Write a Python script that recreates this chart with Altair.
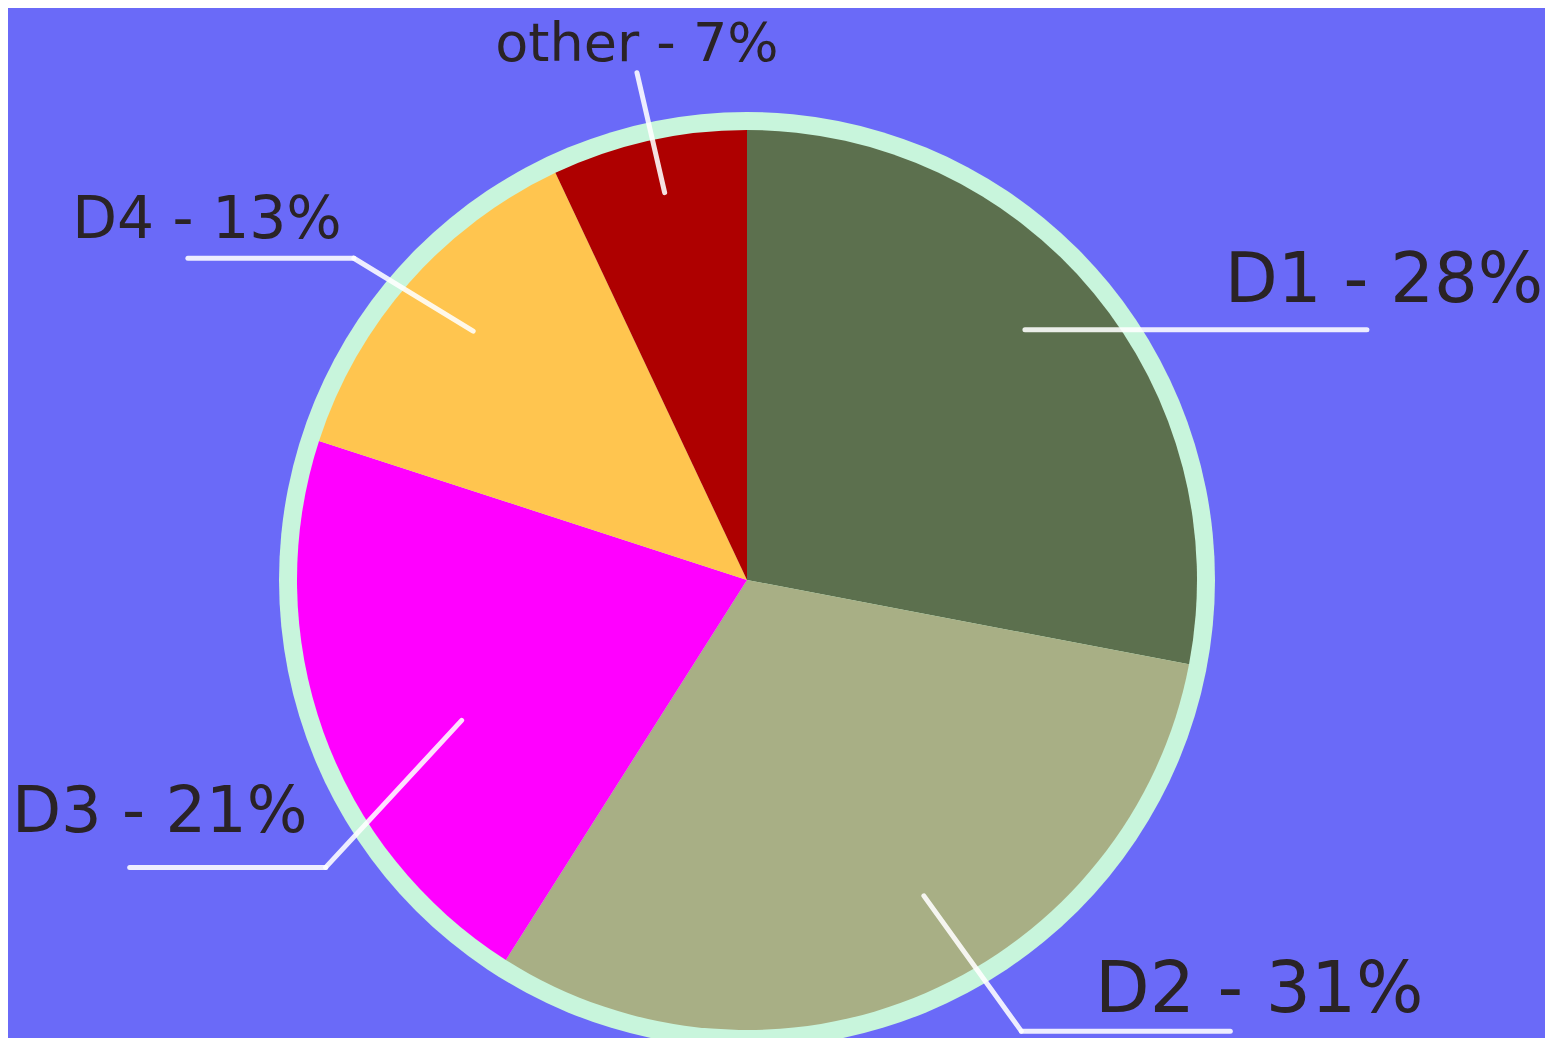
import numpy as np
import pandas as pd
import altair as alt

# ---- data ----
categories = ["D1", "D2", "D3", "D4", "other"]
values = [28, 31, 21, 13, 7]
label_texts = ["D1 - 28%", "D2 - 31%", "D3 - 21%", "D4 - 13%", "other - 7%"]

# ---- style ----
slice_colors = ["#5C704E", "#A8AF85", "#FF00FF", "#FFC54F", "#AE0000"]
BG = "#6A6AF8"
RING = "#C8F5DC"
TEXT = "#2A2326"
W, H = 1537, 1030
CX, CY = 739, 572
R = 450
RING_R = 468

# leader style per slice: (inner angle offset, inner radius, elbow angle offset,
#                          elbow radius, horizontal length, label dx, label dy)
LEADER = {
    "D1": (-2.4, 374, -2.4, 374, 342, 17, -28),
    "D2": (-5.85, 362, -7.9, 528, 209, 29, -19),
    "D3": (-6.4, 318, -14.5, 510, 196, 30, -35),
    "D4": (0.86, 370, -2.1, 508, 166, 19, -20),
    "other": (0.6, 396, 0.36, 519, 0, 0, -12),
}

vals = np.array(values, dtype=float)
total = vals.sum()
start = np.cumsum(vals) - vals
mid = (start + vals / 2) / total * 360.0


def polar(a_deg, r):
    a = np.deg2rad(a_deg)
    return CX + r * np.sin(a), CY - r * np.cos(a)


pie_df = pd.DataFrame({"cat": categories, "value": values, "order": range(len(categories))})

seg_rows = []
lab_rows = []
for cat, m, txt, v in zip(categories, mid, label_texts, values):
    o1, r1, o2, r2, h, ldx, ldy = LEADER[cat]
    x1, y1 = polar(m + o1, r1)
    x2, y2 = polar(m + o2, r2)
    side = 1 if x2 > CX else -1
    x3, y3 = x2 + side * h, y2
    if np.hypot(x2 - x1, y2 - y1) > 1:
        seg_rows.append({"x": x1, "y": y1, "x2": x2, "y2": y2})
    if h > 0:
        seg_rows.append({"x": x2, "y": y2, "x2": x3, "y2": y3})
    lab_rows.append({"x": x3 + ldx, "y": y3 + ldy, "text": txt, "value": v})

seg_df = pd.DataFrame(seg_rows)
lab_df = pd.DataFrame(lab_rows)

ring = alt.Chart(pd.DataFrame({"v": [1]})).mark_arc(
    radius=RING_R, color=RING
).encode(
    theta=alt.value(0), theta2=alt.value(2 * np.pi),
    x=alt.value(CX), y=alt.value(CY),
)

pie = alt.Chart(pie_df).mark_arc(radius=R, strokeWidth=0).encode(
    theta=alt.Theta("value:Q", stack=True),
    order=alt.Order("order:Q"),
    color=alt.Color("cat:N", scale=alt.Scale(domain=categories, range=slice_colors), legend=None),
    x=alt.value(CX), y=alt.value(CY),
)

lines = alt.Chart(seg_df).mark_rule(
    color="#FFFFFF", opacity=0.88, strokeWidth=5, strokeCap="round"
).encode(
    x=alt.X("x:Q", scale=None, axis=None),
    y=alt.Y("y:Q", scale=None, axis=None),
    x2="x2:Q", y2="y2:Q",
)

labels = alt.Chart(lab_df).mark_text(
    font="DejaVu Sans", align="center", baseline="alphabetic", color=TEXT
).encode(
    x=alt.X("x:Q", scale=None, axis=None),
    y=alt.Y("y:Q", scale=None, axis=None),
    text="text:N",
    size=alt.Size("value:Q", scale=alt.Scale(domain=[7, 31], range=[54, 71]), legend=None),
)

chart = alt.layer(ring, pie, lines, labels).properties(
    width=W, height=H, padding=0, autosize="none", background=BG
).configure_view(stroke=None)

chart.save("out.html", embed_options={"renderer": "svg", "actions": False})
